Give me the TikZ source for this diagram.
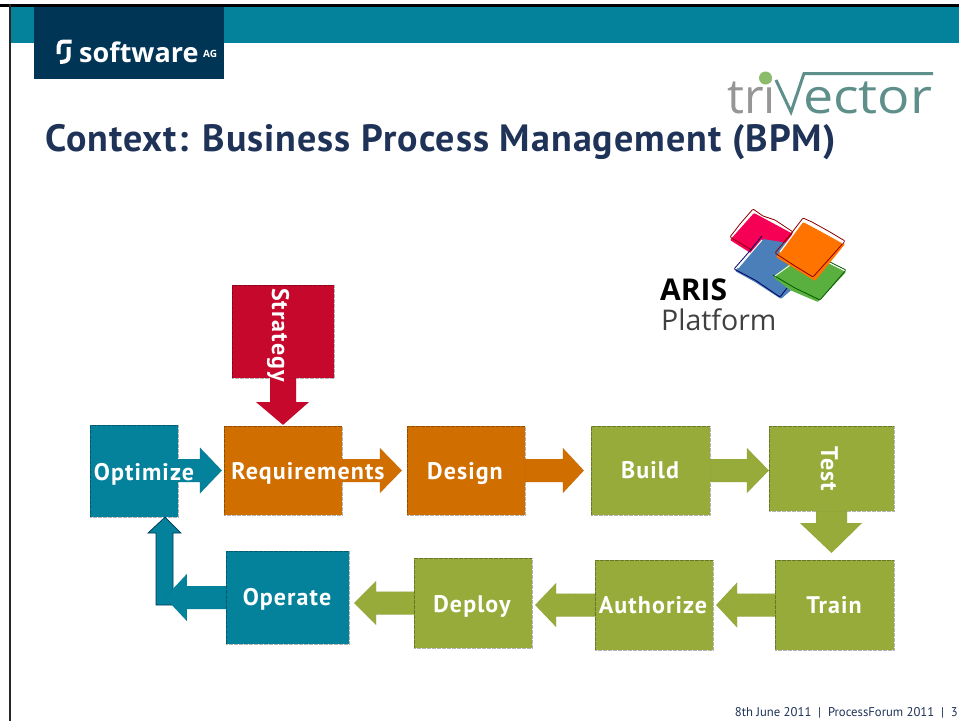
\documentclass[tikz,border=0pt]{standalone}
\usepackage{fontspec}
\setmainfont{PT Sans}
\newfontfamily\logofont{Open Sans}
\usetikzlibrary{calc}
\definecolor{teal}{HTML}{05829B}
\definecolor{navy}{HTML}{003556}
\definecolor{titleblue}{HTML}{1F3358}
\definecolor{orng}{HTML}{D16E00}
\definecolor{olive}{HTML}{97AB3A}
\definecolor{crim}{HTML}{C5082C}
\definecolor{tvteal}{HTML}{5E8F8A}
\definecolor{tvgrey}{HTML}{969696}
\definecolor{tvgreen}{HTML}{8CBB6B}
\definecolor{pinktile}{RGB}{246,0,86}
\definecolor{bluetile}{RGB}{74,127,185}
\definecolor{greentile}{RGB}{90,176,62}
\definecolor{orangetile}{RGB}{255,116,0}
\tikzset{
  x=1pt,y=-1pt,
  edge/.style={draw=black,draw opacity=.3,densely dotted,line width=.25pt},
  stepbox/.style={minimum width=#1,inner sep=0pt,edge,anchor=center},
  steplabel/.style={inner sep=0pt,text=white,font=\bfseries\fontsize{24}{28}\selectfont\addfontfeature{LetterSpace=4.5},anchor=base},
  tilebox/.style={line width=.8pt,line join=round,rounded corners=1pt},
}
% horizontal block arrow: style, start point, tip point, head length, half shaft, half head
\newcommand\hblock[6]{\path let \p1=(#2),\p2=(#3),\n1={\x2-\x1>0pt?1:-1} in
  [#1] (\x1,\y2-#5) -- ({\x2-\n1*#4},\y2-#5) -- ({\x2-\n1*#4},\y2-#6) -- (\x2,\y2) --
  ({\x2-\n1*#4},\y2+#6) -- ({\x2-\n1*#4},\y2+#5) -- (\x1,\y2+#5) -- cycle;}
\begin{document}
\begin{tikzpicture}
\useasboundingbox (0,0) rectangle (959,721);
\fill[white] (0,0) rectangle (959,721);
\fill[black] (0,4) rectangle (959,7);
\fill[black!85] (9,4) rectangle (11,721);
\fill[teal] (11,7) rectangle (959,43);
\fill[navy] (34,7) rectangle (224,79);
\node[anchor=base west,inner sep=0pt,text=white,font=\logofont\bfseries\fontsize{27}{30}\selectfont] (swlogo) at (79,62) {software};
\node[anchor=base west,inner sep=0pt,text=white,font=\logofont\bfseries\fontsize{10}{11}\selectfont] (swag) at (203,57) {AG};
\draw[white,line width=4pt] (71.5,41.5) -- (64,41.5) .. controls (60,41.5) and (58.5,44) .. (58.5,47) -- (58.5,54);
\draw[white,line width=4pt] (68.5,47) -- (68.5,57) .. controls (68.5,60) and (66,62) .. (60,62);
% trivector logo
\node[anchor=base west,inner sep=0pt,text=tvgrey,font=\logofont\fontsize{48}{52}\selectfont] (tri) at (727,113) {tri};
\fill[tvgreen] (765.5,78) circle (6.5);
\draw[tvteal,line width=3pt,line join=miter] (776,80) -- (791,112) -- (804,73.5) -- (933,73.5);
\node[anchor=base west,inner sep=0pt,text=tvteal,font=\logofont\fontsize{48}{52}\selectfont] (vector) at (803,113) {\scalebox{1.12}[1]{ector}};
% title
\node[anchor=base west,inner sep=0pt,text=titleblue,font=\bfseries\fontsize{38}{42}\selectfont\addfontfeature{LetterSpace=2.7}] (title) at (45,151) {Context: Business Process Management (BPM)};
% ARIS logo
\begin{scope}[tilebox]
\fill[pinktile] (754,213) -- (795,235) -- (768,264) -- (730,240) -- cycle;
\draw[red!55!black] (753,209) -- (763,216) -- (775,220) -- (793,232) -- (768,260) -- (745,246) -- (730,237) -- (740,224) -- cycle;
\fill[bluetile] (763,239) -- (735,271) -- (755,282) -- (781,299) -- (789,292) -- (812,270) -- (800,245) -- cycle;
\draw[blue!40!black] (762,236) -- (748,253) -- (734,269) -- (755,280) -- (780,297) -- (787,288);
\draw[white,line width=1pt] (762,240) -- (738,268);
\fill[greentile] (773,277) -- (790,290) -- (818,302) -- (846,272) -- (830,264) -- (805,252) -- cycle;
\draw[green!35!black] (773,275) -- (795,288) -- (820,300) -- (846,270) -- (830,262);
\draw[white,line width=.8pt] (775,276) -- (800,258);
\fill[orangetile] (803,222) -- (845,244) -- (815,281) -- (776,257) -- cycle;
\draw[red!55!black] (803,218) -- (812,222) -- (830,232) -- (845,241) -- (830,258) -- (813,277) -- (795,266) -- (775,253) -- (790,235) -- cycle;
\draw[white,line width=1.2pt] (803,221) -- (780,252);
\draw[white,line width=1.2pt] (804,221) -- (843,243);
\end{scope}
\node[anchor=base west,inner sep=0pt,font=\logofont\bfseries\fontsize{30}{32}\selectfont] (aris) at (660,300) {ARIS};
\node[anchor=base west,inner sep=0pt,text=black!75,font=\logofont\fontsize{28.5}{32}\selectfont] (platform) at (661,330) {Platform};
% boxes
\node[stepbox=102pt,minimum height=93pt,fill=crim] (strat) at (283,331.5) {};
\node[stepbox=88pt,minimum height=92pt,fill=teal] (opt) at (134,471) {};
\node[stepbox=118pt,minimum height=89pt,fill=orng] (req) at (283,470.5) {};
\node[stepbox=118pt,minimum height=89pt,fill=orng] (des) at (466,470.5) {};
\node[stepbox=119pt,minimum height=89pt,fill=olive] (bld) at (650.5,470.5) {};
\node[stepbox=125pt,minimum height=85pt,fill=olive] (tst) at (831.5,468.5) {};
\node[stepbox=119pt,minimum height=90pt,fill=olive] (trn) at (834.5,605) {};
\node[stepbox=118pt,minimum height=90pt,fill=olive] (aut) at (654,605) {};
\node[stepbox=118pt,minimum height=90pt,fill=olive] (dep) at (473,603) {};
\node[stepbox=123pt,minimum height=93pt,fill=teal] (ope) at (287.5,597.5) {};
% arrows
\path[fill=crim,edge] let \p1=(strat.south),\p2=(req.north) in
  (\x1-13,\y1) -- (\x1-13,402) -- (\x1-27,402) -- (\x1,\y2+1) -- (\x1+26,402) -- (\x1+13,402) -- (\x1+13,\y1) -- cycle;
\hblock{fill=teal,edge}{opt.east}{$(req.west)+(-2,0)$}{22}{11.5}{23}
\hblock{fill=orng,edge}{req.east}{$(des.west)+(-5,0)$}{22}{11.5}{22.5}
\hblock{fill=orng,edge}{des.east}{$(bld.west)+(-7,0)$}{21}{11.5}{22.5}
\hblock{fill=olive,edge}{bld.east}{$(tst.west)+(0,2)$}{22}{11.5}{22.5}
\hblock{fill=olive,edge}{trn.west}{$(aut.east)+(3,0)$}{21}{11.5}{22.5}
\hblock{fill=olive,edge}{aut.west}{$(dep.east)+(3,2)$}{21}{11.5}{22}
\hblock{fill=olive,edge}{dep.west}{$(ope.east)+(5,5.5)$}{22}{11.5}{22}
\path[fill=olive,edge] let \p1=(tst.south),\p2=(trn.north) in
  (\x1-15.5,\y1) -- (\x1-15.5,523) -- (\x1-31.5,523) -- (\x1,\y2+7) -- (\x1+30.5,523) -- (\x1+15.5,523) -- (\x1+15.5,\y1) -- cycle;
\coordinate (optTip) at ($(opt.south)+(31,0)$);
\path[fill=teal,draw=navy,line width=.7pt,line join=miter] let \p1=(optTip) in
  (\x1-9,605) -- (\x1-9,533) -- (\x1-17,533) -- (\x1,\y1) -- (\x1+16,533) -- (\x1+8,533) -- (\x1+8,605) -- cycle;
\hblock{fill=teal,edge}{ope.west}{$(ope.west)+(-61,0)$}{22}{11.5}{23.5}
% labels
\node[rotate=-90,steplabel] (strategy) at (272,335) {Strategy};
\node[steplabel] (optimize) at (144,480) {Optimize};
\node[steplabel] (requirements) at (308,479) {Requirements};
\node[steplabel] (design) at (465,479) {Design};
\node[steplabel] (build) at (650,478) {Build};
\node[steplabel,rotate=-90] (test) at (821,469) {Test};
\node[steplabel] (train) at (834,613) {Train};
\node[steplabel] (authorize) at (653,613) {Authorize};
\node[steplabel] (deploy) at (472,612) {Deploy};
\node[steplabel] (operate) at (287,605) {Operate};
% footer
\node[anchor=base east,inner sep=0pt,text=titleblue,font=\fontsize{12.7}{14}\selectfont] (footer) at (958,716) {8th June 2011\ \ |\ \ ProcessForum 2011\ \ |\ \ 3};
\end{tikzpicture}
\end{document}
